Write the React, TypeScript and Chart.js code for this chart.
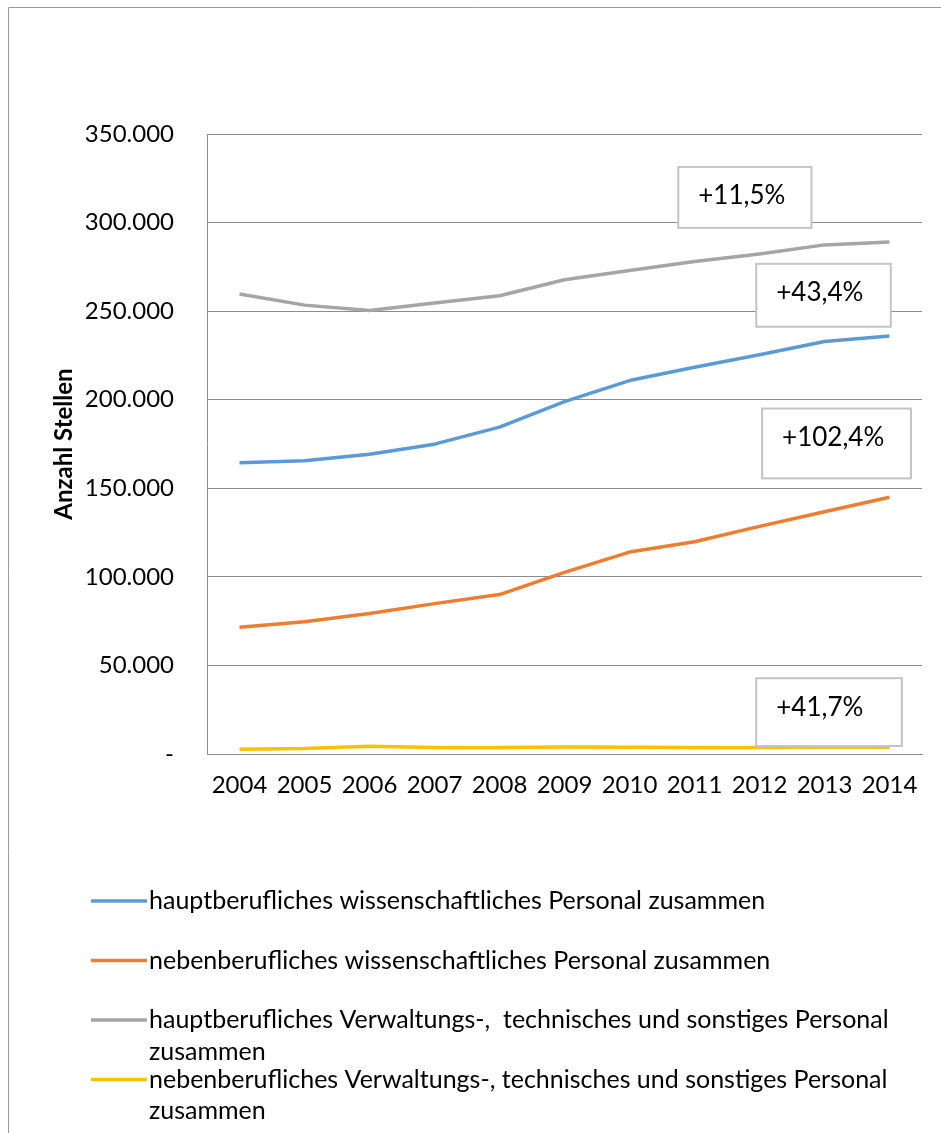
import React, { useEffect, useRef } from "react";
import { Chart, registerables } from "chart.js";

Chart.register(...registerables);

// ---------- data ----------
const years = ["2004", "2005", "2006", "2007", "2008", "2009", "2010", "2011", "2012", "2013", "2014"];
const hauptWiss = [164400, 165500, 169200, 174900, 184500, 198900, 210800, 218300, 225400, 232900, 236000];
const nebenWiss = [71600, 74600, 79300, 84900, 90000, 102500, 114000, 119800, 128500, 136800, 144900];
const hauptVerw = [259700, 253400, 250300, 254600, 258700, 267700, 273000, 278000, 282300, 287400, 289100];
const nebenVerw = [2700, 3100, 4400, 3700, 3700, 4000, 3800, 3700, 3700, 3800, 3830];

const seriesLabels = [
  "hauptberufliches wissenschaftliches Personal zusammen",
  "nebenberufliches wissenschaftliches Personal zusammen",
  "hauptberufliches Verwaltungs-,  technisches und sonstiges Personal zusammen",
  "nebenberufliches Verwaltungs-, technisches und sonstiges Personal zusammen",
];
const seriesColors = ["#5B9BD5", "#ED7D31", "#A5A5A5", "#FFC000"];

const yAxisTitle = "Anzahl Stellen";
const yMin = 0;
const yMax = 350000;
const yStep = 50000;

// change labels (text boxes), anchored in data space: [x from, x to (category index), y top, y bottom (value)]
const changeLabels = ["+11,5%", "+43,4%", "+102,4%", "+41,7%"];
const changeBoxes = [
  [6.75, 8.8, 331400, 297000],
  [7.95, 10.02, 276700, 241200],
  [8.04, 10.33, 195000, 155600],
  [7.95, 10.19, 42800, 4500],
];

const FONT = "Lato, 'Open Sans', sans-serif";

const fmt = (v: number) => {
  if (v === 0) return "-";
  return Math.round(v).toString().replace(/\B(?=(\d{3})+(?!\d))/g, ".");
};

const framePlugin = {
  id: "frame",
  beforeDraw(chart: any) {
    const ctx = chart.ctx;
    ctx.save();
    ctx.fillStyle = "#ffffff";
    ctx.fillRect(0, 0, chart.width, chart.height);
    ctx.strokeStyle = "#9a9a9a";
    ctx.lineWidth = 1;
    ctx.beginPath();
    ctx.moveTo(8.5, chart.height);
    ctx.lineTo(8.5, 7.5);
    ctx.lineTo(chart.width, 7.5);
    ctx.stroke();
    ctx.restore();
  },
};

const boxesPlugin = {
  id: "boxes",
  afterDatasetsDraw(chart: any) {
    const ctx = chart.ctx;
    const xs = chart.scales.x;
    const ys = chart.scales.y;
    ctx.save();
    changeBoxes.forEach((b, i) => {
      const x1 = xs.getPixelForValue(b[0]);
      const x2 = xs.getPixelForValue(b[1]);
      const y1 = ys.getPixelForValue(b[2]);
      const y2 = ys.getPixelForValue(b[3]);
      ctx.fillStyle = "#ffffff";
      ctx.fillRect(x1, y1, x2 - x1, y2 - y1);
      ctx.strokeStyle = "#c4c4c4";
      ctx.lineWidth = 2;
      ctx.strokeRect(x1, y1, x2 - x1, y2 - y1);
      ctx.fillStyle = "#000000";
      ctx.font = `26px ${FONT}`;
      ctx.textAlign = "left";
      ctx.textBaseline = "middle";
      ctx.fillText(changeLabels[i], x1 + 20, y1 + 29);
    });
    ctx.restore();
  },
};

const legendPlugin = {
  id: "customLegend",
  afterDraw(chart: any) {
    const ctx = chart.ctx;
    const top = 901;
    const rowGap = 59.5;
    const lineGap = 31.5;
    const sx1 = 91;
    const sx2 = 147;
    const tx = 149;
    const maxW = chart.width - tx - 4;
    ctx.save();
    ctx.font = `25px ${FONT}`;
    ctx.textAlign = "left";
    ctx.textBaseline = "middle";
    chart.data.datasets.forEach((ds: any, i: number) => {
      const y = top + i * rowGap;
      ctx.strokeStyle = ds.borderColor;
      ctx.lineWidth = 3.5;
      ctx.beginPath();
      ctx.moveTo(sx1, y);
      ctx.lineTo(sx2, y);
      ctx.stroke();
      // word wrap
      const words = String(ds.label).split(" ");
      const lines: string[] = [];
      let cur = "";
      words.forEach((w) => {
        const test = cur === "" ? w : cur + " " + w;
        if (ctx.measureText(test).width > maxW && cur !== "") {
          lines.push(cur);
          cur = w;
        } else {
          cur = test;
        }
      });
      if (cur) lines.push(cur);
      ctx.fillStyle = "#000000";
      lines.forEach((ln, j) => ctx.fillText(ln, tx, y + j * lineGap));
    });
    ctx.restore();
  },
};

export default function App() {
  const ref = useRef<HTMLCanvasElement | null>(null);
  useEffect(() => {
    if (!ref.current) return;
    const series = [hauptWiss, nebenWiss, hauptVerw, nebenVerw];
    const chart = new Chart(ref.current, {
      type: "line",
      data: {
        labels: years,
        datasets: series.map((d, i) => ({
          label: seriesLabels[i],
          data: d,
          borderColor: seriesColors[i],
          backgroundColor: seriesColors[i],
          borderWidth: 3.5,
          pointRadius: 0,
          tension: 0,
          borderJoinStyle: "round" as const,
          fill: false,
        })),
      },
      options: {
        animation: false,
        responsive: false,
        devicePixelRatio: 1,
        layout: { padding: { left: 0, right: 19, top: 134, bottom: 0 } },
        plugins: {
          legend: { display: false },
          tooltip: { enabled: false },
        },
        scales: {
          x: {
            offset: true,
            grid: { display: false, drawTicks: false },
            border: { display: true, color: "#8c8c8c", width: 1 },
            ticks: {
              color: "#000",
              font: { family: FONT, size: 24 },
              padding: 17,
              maxRotation: 0,
              autoSkip: false,
            },
            afterFit: (s: any) => {
              s.height = 379;
            },
          },
          y: {
            min: yMin,
            max: yMax,
            grid: { color: "#8c8c8c", lineWidth: 1, drawTicks: false },
            border: { display: true, color: "#8c8c8c", width: 1 },
            ticks: {
              stepSize: yStep,
              color: "#000",
              font: { family: FONT, size: 24 },
              padding: 33,
              callback: (v: any) => fmt(Number(v)),
            },
            title: {
              display: true,
              text: yAxisTitle,
              color: "#000",
              font: { family: FONT, size: 24, weight: "bold" },
              padding: { top: 50, bottom: 0 },
            },
            afterFit: (s: any) => {
              s.width = 207;
            },
          },
        },
      },
      plugins: [framePlugin, boxesPlugin, legendPlugin],
    });
    return () => chart.destroy();
  }, []);
  return (
    <div style={{ position: "absolute", left: 0, top: 0, width: 941, height: 1133 }}>
      <canvas ref={ref} width={941} height={1133} style={{ display: "block", width: 941, height: 1133 }} />
    </div>
  );
}
